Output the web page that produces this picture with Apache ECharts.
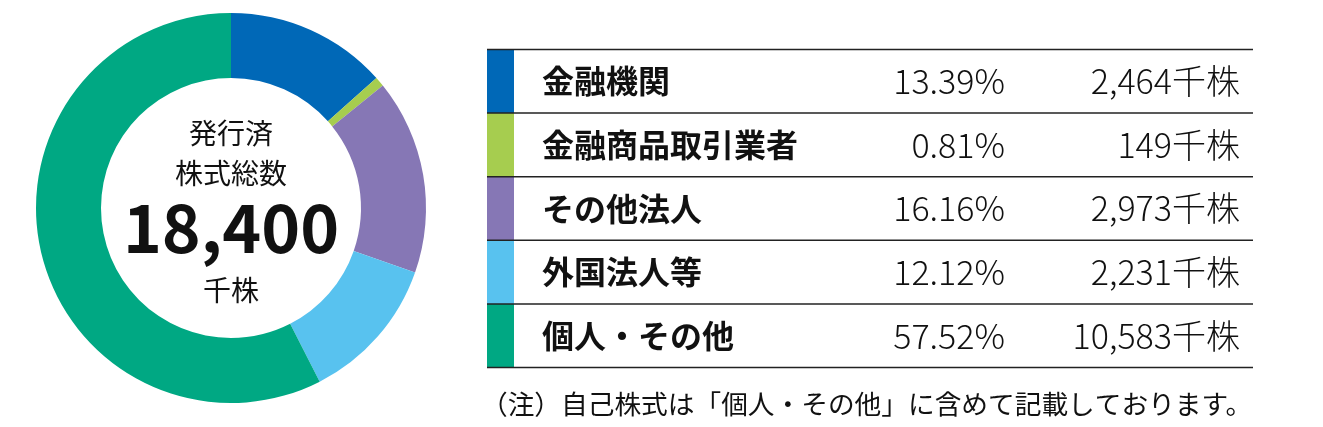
<!DOCTYPE html>
<html>
<head>
<meta charset="utf-8">
<script src="https://cdn.jsdelivr.net/npm/echarts@6/dist/echarts.min.js"></script>
<style>
  html, body { margin: 0; padding: 0; background: #fff; }
  #chart { width: 1323px; height: 427px; }
</style>
</head>
<body>
<div id="chart"></div>
<script>
// 株主構成
const categories = ["金融機関", "金融商品取引業者", "その他法人", "外国法人等", "個人・その他"];
const shares = [2464, 149, 2973, 2231, 10583]; // 千株
const percents = ["13.39%", "0.81%", "16.16%", "12.12%", "57.52%"];
const colors = ["#0068b7", "#a6cd4f", "#8677b5", "#58c2ef", "#00a883"];
const totalLabel = "18,400";
const note = "（注）自己株式は「個人・その他」に含めて記載しております。";

const FONT = '"Noto Sans CJK JP", "Noto Sans", sans-serif';

const chart = echarts.init(document.getElementById("chart"), null, { renderer: "canvas" });

// 表の罫線と文字
const tableLeft = 487;
const tableRight = 1253;
const tableTop = 49.5;
const rowH = 63.6;
const graphics = [];

categories.forEach((name, i) => {
    const top = tableTop + i * rowH;
    const mid = top + rowH / 2;
    graphics.push({
        type: "rect",
        shape: { x: tableLeft, y: top, width: 27, height: rowH },
        style: { fill: colors[i] }
    });
    graphics.push({
        type: "text",
        x: 542, y: mid,
        style: { text: name, font: "bold 32px " + FONT, fill: "#111", textAlign: "left", textVerticalAlign: "middle" }
    });
    graphics.push({
        type: "text",
        x: 1005, y: mid,
        style: { text: percents[i], font: "300 34px " + FONT, fill: "#111", textAlign: "right", textVerticalAlign: "middle" }
    });
    graphics.push({
        type: "text",
        x: 1240, y: mid,
        style: { text: shares[i].toLocaleString("en-US") + "千株", font: "300 34px " + FONT, fill: "#111", textAlign: "right", textVerticalAlign: "middle" }
    });
});
for (let i = 0; i <= categories.length; i++) {
    const y = tableTop + i * rowH;
    graphics.push({
        type: "line",
        shape: { x1: tableLeft, y1: y, x2: tableRight, y2: y },
        style: { stroke: "#222", lineWidth: 1.5 }
    });
}
graphics.push({
    type: "text",
    x: 481, y: 404,
    style: { text: note, font: "26.7px " + FONT, fill: "#111", textAlign: "left", textVerticalAlign: "middle" }
});

// 中央の文字
const centerTexts = [
    { text: "発行済", y: 133, font: "28px " + FONT },
    { text: "株式総数", y: 173, font: "28px " + FONT },
    { text: totalLabel, y: 228, font: "bold 66px " + FONT },
    { text: "千株", y: 290, font: "28px " + FONT }
];
centerTexts.forEach(t => {
    graphics.push({
        type: "text",
        x: 231, y: t.y,
        style: { text: t.text, font: t.font, fill: "#111", textAlign: "center", textVerticalAlign: "middle" }
    });
});

const option = {
    animation: false,
    backgroundColor: "#fff",
    color: colors,
    series: [
        {
            type: "pie",
            center: [231, 208],
            radius: [130, 195],
            startAngle: 90,
            clockwise: true,
            label: { show: false },
            labelLine: { show: false },
            itemStyle: { borderWidth: 0 },
            data: categories.map((name, i) => ({ name: name, value: shares[i] }))
        }
    ],
    graphic: graphics
};
chart.setOption(option);
</script>
</body>
</html>
